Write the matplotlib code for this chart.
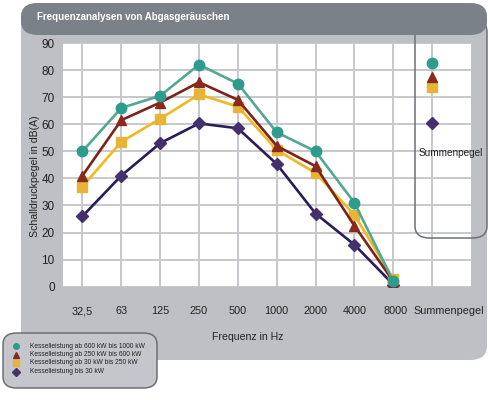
import matplotlib
matplotlib.use("Agg")
import matplotlib.pyplot as plt
from matplotlib.patches import FancyBboxPatch
from matplotlib.lines import Line2D
from matplotlib.transforms import ScaledTranslation

plt.rcParams['font.family'] = ['Liberation Sans', 'DejaVu Sans']

categories = ['32,5', '63', '125', '250', '500', '1000', '2000', '4000', '8000', 'Summenpegel']
series_names = ['Kesselleistung ab 600 kW bis 1000 kW',
                'Kesselleistung ab 250 kW bis 600 kW',
                'Kesselleistung ab 30 kW bis 250 kW',
                'Kesselleistung bis 30 kW']
green = [50, 66, 70.5, 82, 75, 57, 50, 31, 2]
red = [41, 61.5, 68, 75.5, 69, 52, 44.5, 22.5, 2]
yellow = [37, 53.5, 62, 71, 66.5, 50.5, 42, 26.5, 3]
purple = [26, 41, 53, 60.3, 58.5, 45.3, 27, 15.5, 0.8]
summen = [82.5, 77.5, 73.7, 60.5]

line_colors = ['#52a893', '#7b2318', '#f2b81e', '#2c1b5a']
marker_colors = ['#2e9c8c', '#8a2a1c', '#e8b438', '#45306e']
markers = ['o', '^', 's', 'D']
msizes = [7.5, 7, 7, 6.5]
data = [green, red, yellow, purple]

W, H = 489, 400
fig = plt.figure(figsize=(W / 100, H / 100), dpi=100)
fig.patch.set_facecolor('white')

def fx(x):
    return x / W

def fy(y):
    return 1 - y / H

# panel
panel = FancyBboxPatch((fx(21), fy(360)), fx(487) - fx(21), fy(3) - fy(360),
                       boxstyle="round,pad=0,rounding_size=0.035",
                       transform=fig.transFigure, facecolor='#bec0c5',
                       edgecolor='none', zorder=-2)
fig.patches.append(panel)

ax = fig.add_axes([fx(63), fy(286.7), fx(471) - fx(63), (286.7 - 43) / H])
ax.set_facecolor('white')
ax.set_xlim(-0.5, 10)
ax.set_ylim(0, 90)
ax.set_yticks(range(0, 91, 10))
ax.set_xticks(range(len(categories)))
ax.set_xticklabels(categories)
ax.tick_params(axis='both', length=0, colors='#222222')
ax.tick_params(axis='x', pad=14, labelsize=7.8)
ax.tick_params(axis='y', pad=6, labelsize=8.5)
for s in ax.spines.values():
    s.set_visible(False)
ax.grid(True, color='#c6c8cd', linewidth=1.4)
ax.set_axisbelow(True)

xlabels = ax.get_xticklabels()
xlabels[-1].set_transform(xlabels[-1].get_transform() +
                          ScaledTranslation(0.17, 0, fig.dpi_scale_trans))
xlabels[-2].set_transform(xlabels[-2].get_transform() +
                          ScaledTranslation(0.02, 0, fig.dpi_scale_trans))

xs = list(range(9))
order = [3, 2, 1, 0]
for i in order:
    ax.plot(xs, data[i], color=line_colors[i], linewidth=1.9, zorder=2 + (3 - i))
    ax.plot(xs, data[i], linestyle='none', marker=markers[i], markersize=msizes[i],
            markerfacecolor=marker_colors[i], markeredgecolor=marker_colors[i],
            zorder=3 + (3 - i))
    ax.plot([9], [summen[i]], linestyle='none', marker=markers[i], markersize=msizes[i],
            markerfacecolor=marker_colors[i], markeredgecolor=marker_colors[i],
            zorder=3 + (3 - i))

fig.text(fx(35), fy(176), 'Schalldruckpegel in dB(A)', rotation=90, ha='center',
         va='center', fontsize=7.6, color='#222222')
fig.text(fx(248), fy(337), 'Frequenz in Hz', ha='center', va='center',
         fontsize=7.6, color='#222222')
fig.text(fx(451), fy(153), 'Summenpegel', ha='center', va='center',
         fontsize=7.2, color='#222222', zorder=5)

# Summenpegel box
sbox = FancyBboxPatch((fx(415), fy(238)), fx(487) - fx(415), fy(20) - fy(238),
                      boxstyle="round,pad=0,rounding_size=0.03",
                      transform=fig.transFigure, facecolor='none',
                      edgecolor='#6c7076', linewidth=1.1, zorder=3)
fig.patches.append(sbox)

# title band
band = FancyBboxPatch((fx(21), fy(35)), fx(487) - fx(21), fy(3) - fy(35),
                      boxstyle="round,pad=0,rounding_size=0.035",
                      transform=fig.transFigure, facecolor='#7b8189',
                      edgecolor='none', zorder=4)
fig.patches.append(band)
fig.text(fx(37), fy(17), 'Frequenzanalysen von Abgasgeräuschen', ha='left', va='center',
         fontsize=7.0, fontweight='bold', color='white', zorder=6)

# legend box
lbox = FancyBboxPatch((fx(3), fy(388)), fx(157) - fx(3), fy(333) - fy(388),
                      boxstyle="round,pad=0,rounding_size=0.028",
                      transform=fig.transFigure, facecolor='#c4c6cb',
                      edgecolor='#6c7076', linewidth=1.1, zorder=5)
fig.patches.append(lbox)
ys = [346, 354.5, 363, 371.5]
for i in range(4):
    fig.add_artist(Line2D([fx(16)], [fy(ys[i])], marker=markers[i], markersize=4,
                          markerfacecolor=marker_colors[i], markeredgecolor=marker_colors[i],
                          linestyle='none', transform=fig.transFigure, zorder=6))
    fig.text(fx(30), fy(ys[i]), series_names[i], ha='left', va='center',
             fontsize=4.8, color='#222222', zorder=6)

fig.savefig('out.png', dpi=100)
